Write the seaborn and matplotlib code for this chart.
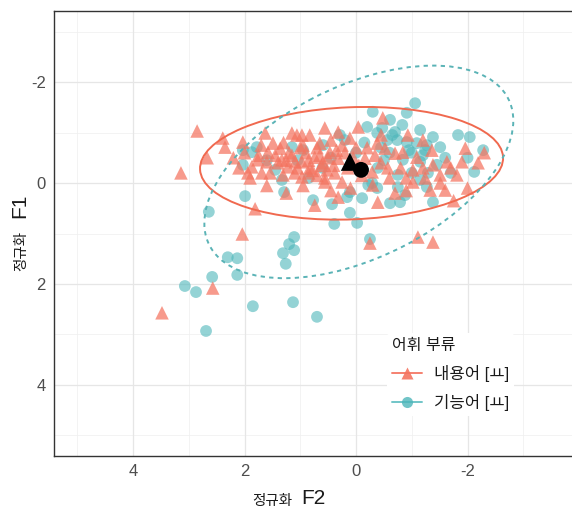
import matplotlib

matplotlib.use("Agg")
import matplotlib.pyplot as plt
import numpy as np
import pandas as pd
import seaborn as sns
from matplotlib.lines import Line2D
from matplotlib.patches import Ellipse

# 내용어 [ㅛ] (triangles): normalised F2 / F1
content_f2 = [
    2.85, 3.14, 2.39, 2.35, 2.67, 2.03, 1.94, 1.63, 1.58, 1.49, 1.36, 1.15, 1.06,
    1.76, 1.60, 1.69, 1.87, 1.33, 1.22, 1.09, 1.54, 1.31, 1.81, 2.04, 2.57, 3.48,
    0.97, 0.83, 0.56, 0.32, -0.04, -0.48, -0.38, 0.65, 0.11, 0.97, 0.74, 0.47,
    0.32, -0.16, -0.34, -0.52, 0.83, 0.52, 0.97, 0.56, 0.38, -0.29, -0.57, -0.70,
    -0.93, -1.20, -1.36, -1.96, -1.90, -2.19, -1.81, -1.63, -0.84, -1.09, -1.38,
    -1.51, -1.02, -1.24, 0.74, 0.32, -0.39, 0.56, 0.25, -0.30, -0.25, -1.02,
    -1.33, -1.60, -1.51, -1.11, -1.38, 0.90, 0.70, 0.60, 0.40, 0.20, 0.00, 1.00,
    1.20, 0.85, 0.65, 0.15, -0.05, 0.45, 0.25, 1.40, 1.10, 0.70, -0.60, -0.80,
    -0.90, -1.20, -1.70, -0.45, 1.70, 2.20, 2.00, 1.90, 2.10, -2.30, -2.00,
    -1.75, -0.70, -0.90, 0.10, 0.95, 1.25, 1.60, 0.45, -0.10, 1.45, 1.25, 1.05,
    0.85, 0.62, 0.50, 1.30, 1.15, 0.95, 0.78, 0.35, 0.05, -0.20, -0.45, 1.75,
]
content_f1 = [
    -1.03, -0.20, -0.89, -0.71, -0.50, -0.81, -0.20, -0.99, -0.61, -0.79, -0.69,
    -0.99, -0.95, -0.46, -0.42, -0.20, -0.32, -0.46, -0.32, -0.42, -0.20, -0.16,
    0.51, 1.01, 2.08, 2.57, -0.95, -0.95, -1.09, -1.01, -1.11, -1.29, -0.79,
    -0.79, -0.89, -0.42, -0.51, -0.61, -0.49, -0.49, -0.55, -0.69, -0.30, -0.26,
    -0.12, -0.10, -0.20, -0.22, -0.30, -0.59, -0.95, -0.85, -0.65, -0.69, -0.42,
    -0.40, -0.16, -0.42, -0.61, -0.51, -0.36, -0.16, -0.26, -0.10, 0.44, 0.28,
    0.38, -0.02, -0.02, 0.04, 1.19, -0.02, 0.14, 0.14, 0.00, 1.07, 1.17, -0.60,
    -0.70, -0.40, -0.35, -0.60, -0.70, -0.70, -0.60, -0.20, -0.55, -0.30, -0.35,
    -0.85, -0.75, -0.40, -0.20, -0.15, -0.10, -0.30, -0.10, -0.30, -0.30, -0.95,
    -0.75, -0.50, -0.60, -0.10, -0.30, -0.60, 0.10, 0.35, 0.20, 0.15, 0.10, 0.05,
    0.20, 0.05, 0.15, -0.15, -0.55, -0.45, -0.30, -0.45, -0.35, -0.50, -0.80,
    -0.55, -0.75, -0.25, -0.65, -0.50, -0.70, -0.40, -0.55,
]

# 기능어 [ㅛ] (circles): normalised F2 / F1
function_f2 = [
    1.99, 1.29, 2.64, 0.77, 0.43, 0.39, 1.11, 1.20, 1.11, 1.31, 1.26, 2.30, 2.13,
    2.13, 2.58, 3.07, 2.87, 1.85, 1.13, 2.69, 0.70, 2.03, 1.87, 1.78, 2.03, 1.45,
    1.15, 1.33, -0.30, -1.06, -0.91, -0.61, -0.20, -0.47, -0.83, -1.15, -1.38,
    -1.83, -2.04, -2.28, -2.12, 0.29, -0.38, -0.56, -0.74, -0.91, -1.09, -1.24,
    -1.51, -0.70, 0.95, -0.39, -0.75, -0.29, -0.84, -1.15, -1.45, -1.29, -1.27,
    0.16, 0.11, -0.11, 0.11, -0.02, -0.61, -0.79, -0.25, -0.22, -0.38, -0.75,
    -1.15, -1.27, -1.38, -0.88, 0.59, 0.20, 0.45, 0.00, -0.60, -1.00, -0.50,
    -1.60, -1.70, -1.00, 0.60, 0.85, 1.60, 1.05, -2.00, -0.15, -0.45, -0.65,
    -0.95, -1.20,
]
function_f1 = [
    0.26, 0.18, 0.57, 0.34, 0.42, 0.81, 1.07, 1.21, 1.33, 1.39, 1.60, 1.47, 1.49,
    1.82, 1.86, 2.04, 2.16, 2.44, 2.36, 2.93, 2.65, -0.65, -0.61, -0.71, -0.36,
    -0.26, -0.71, -0.06, -1.41, -1.58, -1.39, -1.25, -1.11, -1.09, -1.15, -1.05,
    -0.91, -0.95, -0.91, -0.65, -0.22, -0.95, -0.99, -0.85, -0.85, -0.81, -0.79,
    -0.65, -0.71, -1.01, -0.65, -0.30, -0.16, 0.00, -0.46, -0.42, -0.36, -0.20,
    -0.75, 0.28, 0.18, 0.30, 0.59, 0.79, 0.40, 0.38, 1.11, 0.04, 0.10, 0.08,
    -0.06, 0.08, 0.38, 0.24, -0.75, -0.85, -0.50, -0.60, -0.60, -0.60, -0.45,
    -0.50, -0.20, -0.20, -0.30, -0.10, -0.45, -0.45, -0.50, -0.80, -0.70, -0.95,
    -0.65, -0.55,
]

# group means (F2, F1)
content_mean = (0.11, -0.42)
function_mean = (-0.09, -0.26)

# 95% ellipses: centre F2, centre F1, full width, full height, angle (deg)
content_ellipse = (0.08, -0.39, 5.44, 2.22, 2.6)
function_ellipse = (-0.05, -0.22, 6.1, 3.35, 30.0)

groups = ["내용어 [ㅛ]", "기능어 [ㅛ]"]
colors = {"내용어 [ㅛ]": "#F47460", "기능어 [ㅛ]": "#4DB6BA"}
line_colors = {"내용어 [ㅛ]": "#F0694F", "기능어 [ㅛ]": "#5AB3B6"}

x_ticks = [4, 2, 0, -2]
y_ticks = [-2, 0, 2, 4]

df = pd.DataFrame(
    {
        "F2": content_f2 + function_f2,
        "F1": content_f1 + function_f1,
        "group": [groups[0]] * len(content_f2) + [groups[1]] * len(function_f2),
    }
)

sns.set_theme(style="white")
plt.rcParams["font.family"] = ["Liberation Sans", "Noto Sans CJK KR", "DejaVu Sans"]

W, H = 572, 508
fig = plt.figure(figsize=(W / 100, H / 100), dpi=100)
ax = fig.add_axes([54 / W, 1 - 456 / H, (W - 54) / W, 445 / H])

for v in [5, 3, 1, -1, -3]:
    ax.axvline(v, color="#EFEFEF", lw=0.5, zorder=0)
for v in [-3, -1, 1, 3, 5]:
    ax.axhline(v, color="#EFEFEF", lw=0.5, zorder=0)
for v in x_ticks:
    ax.axvline(v, color="#E6E6E6", lw=0.9, zorder=0)
for v in y_ticks:
    ax.axhline(v, color="#E6E6E6", lw=0.9, zorder=0)

sns.scatterplot(
    data=df[df["group"] == groups[1]], x="F2", y="F1", color=colors[groups[1]],
    marker="o", s=72, alpha=0.6, edgecolor="none", ax=ax, legend=False, zorder=2,
)
sns.scatterplot(
    data=df[df["group"] == groups[0]], x="F2", y="F1", color=colors[groups[0]],
    marker="^", s=95, alpha=0.72, edgecolor="none", ax=ax, legend=False, zorder=3,
)

cx, cy, w, h, a = content_ellipse
ax.add_patch(Ellipse((cx, cy), w, h, angle=a, fill=False,
                     edgecolor=line_colors[groups[0]], lw=1.4, zorder=4))
cx, cy, w, h, a = function_ellipse
ax.add_patch(Ellipse((cx, cy), w, h, angle=a, fill=False,
                     edgecolor=line_colors[groups[1]], lw=1.4,
                     linestyle=(0, (2.2, 2.2)), zorder=4))

ax.scatter([content_mean[0]], [content_mean[1]], marker="^", s=170,
           color="black", edgecolor="none", zorder=6)
ax.scatter([function_mean[0]], [function_mean[1]], marker="o", s=130,
           color="black", edgecolor="none", zorder=6)

ax.set_xlim(5.417, -3.874)
ax.set_ylim(5.406, -3.406)
ax.set_xticks(x_ticks)
ax.set_yticks(y_ticks)
ax.set_xticklabels([str(t) for t in x_ticks])
ax.set_yticklabels([str(t) for t in y_ticks])
ax.tick_params(axis="both", direction="out", length=3, width=0.8,
               color="#333333", labelcolor="#4D4D4D", labelsize=12, pad=3)
ax.set_xlabel("")
ax.set_ylabel("")
for side in ["top", "left", "bottom"]:
    ax.spines[side].set_color("#333333")
    ax.spines[side].set_linewidth(1.0)
ax.spines["right"].set_visible(False)

# axis titles: Korean part smaller than the Latin part, as in the original
fig.text(252 / W, 1 - 505 / H, "정규화", fontsize=10.5, family="Noto Sans CJK KR",
         ha="left", va="baseline", color="#1A1A1A")
fig.text(301 / W, 1 - 504 / H, "F2", fontsize=15, family="Liberation Sans",
         ha="left", va="baseline", color="#1A1A1A")
fig.text(25 / W, 1 - 271 / H, "정규화", fontsize=10.5, family="Noto Sans CJK KR",
         rotation=90, rotation_mode="anchor", ha="left", va="baseline",
         color="#1A1A1A")
fig.text(25 / W, 1 - 218 / H, "F1", fontsize=15, family="Liberation Sans",
         rotation=90, rotation_mode="anchor", ha="left", va="baseline",
         color="#1A1A1A")

handles = [
    Line2D([0], [0], color=colors[groups[0]], marker="^", markersize=9,
           lw=1.4, alpha=0.9, markeredgecolor="none"),
    Line2D([0], [0], color=colors[groups[1]], marker="o", markersize=8,
           lw=1.4, alpha=0.8, markeredgecolor="none"),
]
leg = ax.legend(
    handles, groups, title="어휘 부류", loc="upper left",
    bbox_to_anchor=((379 - 54) / 518, 1 - (325 - 11) / 445),
    frameon=True, facecolor="white", edgecolor="none", framealpha=1,
    fontsize=12, title_fontsize=11.5, handlelength=1.8, handletextpad=0.7,
    labelspacing=0.7, borderpad=0.3, alignment="left",
)
for t in leg.get_texts():
    t.set_color("#1A1A1A")
leg.get_title().set_color("#1A1A1A")
leg.set_zorder(10)

fig.savefig("out.png", dpi=100)
